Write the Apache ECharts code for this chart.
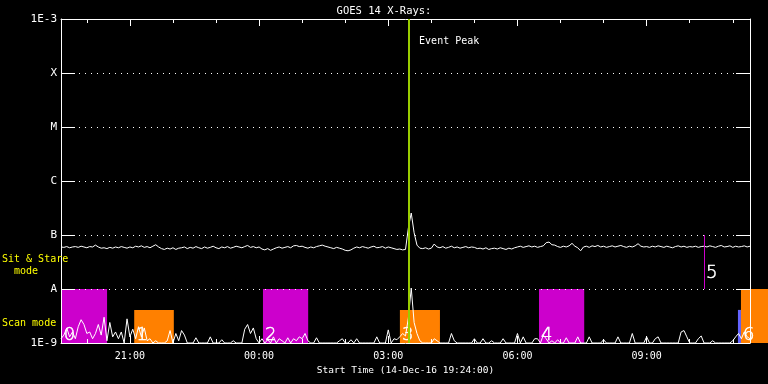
<!DOCTYPE html>
<html>
<head>
<meta charset="utf-8">
<script src="https://cdn.jsdelivr.net/npm/echarts@6/dist/echarts.min.js"></script>
<style>
html,body{margin:0;padding:0;background:#000;}
#chart{width:768px;height:384px;}
</style>
</head>
<body>
<div id="chart"></div>
<script>
// ---- data (flux in units of 1e-9 W/m^2, i.e. nW/m^2) ----
const startHour = 19.4;           // 14-Dec-16 19:24 expressed in hours of 14-Dec
const endHour = 35.4;             // 15-Dec 11:24
const sampleMinutes = 4;

// GOES 14 long channel (1-8 A)
const xrsLong = [
60,59,61,58,60,61,59,62,60,58,61,60,
65,
60,57,58,56,59,57,60,58,61,59,57,60,58,62,
60,63,59,61,58,62,66,60,
56,54,57,55,58,54,57,
58,60,56,59,57,61,58,56,60,57,59,62,58,56,60,58,61,57,59,62,60,58,61,
64,
59,61,58,60,
55,53,56,52,55,
58,60,57,59,61,58,
63,64,61,62,
59,57,60,58,61,
63,65,62,60,
58,56,59,57,55,
52,51,53,
57,60,58,61,59,57,60,62,58,59,61,57,60,58,
56,54,55,53,54,
135,255,110,65,
57,56,58,55,57,
68,
60,58,61,57,59,62,58,60,57,59,61,58,60,59,
56,57,55,58,54,56,57,55,58,56,54,57,55,58,
60,62,59,61,63,60,62,59,61,63,
72,74,
66,65,
61,59,62,60,63,
70,
62,58,
51,
60,62,59,63,61,64,60,62,59,61,63,60,62,64,61,59,62,60,63,
69,
62,60,61,59,62,60,63,61,59,62,60,58,61,63,60,62,59,61,60,62,59,61,
62,60,63,61,59,62,64,60,61,63,59,62,60,61,63,60,62
];

// GOES 14 short channel (0.5-4 A)
const xrsShort = [
1.2,1.4,1.9,1.3,1.6,1.2,2.0,2.7,2.2,1.5,
1.6,1.2,1.5,2.2,1.4,3.0,1.1,2.4,1.3,1.6,
1.2,1.6,1.0,2.8,1.3,1.8,1.2,2.0,1.3,1.9,
1.1,1.2,1.0,1.1,1.0,1.0,1.0,1.1,1.7,1.0,
1.5,1.1,1.7,1.4,1.0,1.0,1.0,1.25,1.0,1.0,
1.0,1.0,1.3,1.0,1.0,1.0,1.15,1.0,1.0,1.0,
1.1,1.0,1.0,1.0,1.8,2.2,1.5,1.9,1.2,1.0,
1.2,1.0,1.15,1.0,1.3,1.0,1.2,1.1,1.0,1.25,
1.0,1.2,1.1,1.3,1.2,1.5,1.1,1.0,1.0,1.25,
1.0,1.0,1.0,1.0,1.0,1.0,1.0,1.1,1.2,1.0,
1.0,1.15,1.0,1.2,1.0,1.0,1.0,1.0,1.0,1.0,
1.3,1.0,1.0,1.0,1.75,1.0,1.2,1.15,1.3,1.5,
1.35,2.9,10.4,2.4,1.5,1.1,1.0,1.0,1.0,1.0,
1.2,1.1,1.0,1.0,1.0,1.0,1.5,1.1,1.0,1.0,
1.0,1.0,1.0,1.0,1.2,1.0,1.0,1.2,1.0,1.0,
1.1,1.0,1.0,1.0,1.2,1.0,1.0,1.0,1.0,1.5,
1.0,1.3,1.0,1.0,1.0,1.2,1.2,1.0,1.4,1.2,
1.0,1.1,1.0,1.15,1.0,1.0,1.25,1.0,1.0,1.0,
1.3,1.0,1.0,1.0,1.3,1.0,1.0,1.0,1.0,1.15,
1.0,1.0,1.0,1.0,1.3,1.0,1.0,1.0,1.0,1.5,
1.0,1.0,1.0,1.0,1.3,1.0,1.0,1.2,1.3,1.0,
1.0,1.0,1.0,1.0,1.0,1.0,1.6,1.7,1.3,1.0,
1.0,1.0,1.2,1.35,1.0,1.0,1.0,1.1,1.0,1.0,
1.0,1.0,1.0,1.0,1.1,1.3,1.5,1.2,1.6,1.3,
1.2
];

// observing windows (hours of 14-Dec; >24 is 15-Dec)
const windowLabels = ['0', '1', '2', '3', '4', '', '6'];
const windowMode   = ['stare', 'scan', 'stare', 'scan', 'stare', 'other', 'scan6'];
const windowStart  = [19.42, 21.10, 24.09, 27.27, 30.50, 35.12, 35.19];
const windowEnd    = [20.47, 22.02, 25.14, 28.20, 31.55, 35.19, 35.82];
const windowTop    = [10, 4.1, 10, 4.1, 10, 4.1, 10];

// single sit & stare marker (event 5)
const markerLabels = ['5'];
const markerTime = [34.333];
const markerLow = [10];
const markerHigh = [100];

// event peak
const eventPeakTime = [27.483];
const eventPeakLabel = ['Event Peak'];

// axis tick labels
const yTickLabels = ['1E-9', 'A', 'B', 'C', 'M', 'X', '1E-3'];
const majorHours = [21, 24, 27, 30, 33];
const minorHours = [20, 21, 22, 23, 24, 25, 26, 27, 28, 29, 30, 31, 32, 33, 34, 35];
const titleText = 'GOES 14 X-Rays:';
const xAxisTitle = 'Start Time (14-Dec-16 19:24:00)';
const stareText = 'Sit & Stare\n  mode';
const scanText = 'Scan mode';

// ---- build ----
const modeColors = {stare: '#cc00cc', scan: '#ff8000', scan6: '#ff8000', other: '#6464ff'};
const toPairs = arr => arr.map((v, i) => [startHour + i * sampleMinutes / 60, v]);
const windowsData = windowStart.map((s, i) => [s, windowEnd[i], windowTop[i]]);
const markerData = markerTime.map((t, i) => [t, markerLow[i], markerHigh[i]]);
const hourFmt = v => { const h = Math.round(v) % 24; return (h < 10 ? '0' : '') + h + ':00'; };

const mono = '"DejaVu Sans Mono", monospace';
const white = '#ffffff';
const digitStyle = {fill: white, stroke: white, lineWidth: 0.5, font: '200 18px "DejaVu Sans"', verticalAlign: 'bottom'};

function xAxisBase(pos) {
  return {type: 'value', min: startHour, max: endHour, position: pos,
    splitLine: {show: false}, axisLabel: {show: false}, axisLine: {show: false}, z: 5};
}

const chart = echarts.init(document.getElementById('chart'), null, {renderer: 'canvas'});
chart.setOption({
  backgroundColor: '#000',
  animation: false,
  title: {text: titleText, left: 'center', top: 1,
    textStyle: {color: white, fontFamily: mono, fontSize: 10.5, fontWeight: 'normal'}},
  grid: {left: 61, right: 18, top: 19, bottom: 41, containLabel: false},
  graphic: [
    {type: 'text', left: 2, top: 253, z: 10,
      style: {text: stareText, fill: '#ffff00', font: '10px ' + mono, lineHeight: 12}},
    {type: 'text', left: 2, top: 318, z: 10,
      style: {text: scanText, fill: '#ffff00', font: '10px ' + mono}}
  ],
  xAxis: [
    Object.assign(xAxisBase('bottom'), {
      axisLine: {show: true, onZero: false, lineStyle: {color: white, width: 1}},
      axisTick: {show: true, inside: true, length: 7, customValues: majorHours, lineStyle: {color: white}},
      axisLabel: {show: true, customValues: majorHours, formatter: hourFmt, color: white,
        fontFamily: mono, fontSize: 10, margin: 8},
      name: xAxisTitle, nameLocation: 'middle', nameGap: 21,
      nameTextStyle: {color: white, fontFamily: mono, fontSize: 9.5}
    }),
    Object.assign(xAxisBase('bottom'), {
      axisTick: {show: true, inside: true, length: 4, customValues: minorHours, lineStyle: {color: white}}
    }),
    Object.assign(xAxisBase('top'), {
      axisLine: {show: true, onZero: false, lineStyle: {color: white, width: 1}},
      axisTick: {show: true, inside: true, length: 7, customValues: majorHours, lineStyle: {color: white}}
    }),
    Object.assign(xAxisBase('top'), {
      axisTick: {show: true, inside: true, length: 4, customValues: minorHours, lineStyle: {color: white}}
    })
  ],
  yAxis: [
    {type: 'log', logBase: 10, min: 1, max: 1e6, position: 'left', z: 5,
      axisLine: {show: true, onZero: false, lineStyle: {color: white}},
      axisTick: {show: true, inside: true, length: 14, lineStyle: {color: white}},
      axisLabel: {color: white, fontFamily: mono, fontSize: 11, margin: 4,
        formatter: v => yTickLabels[Math.round(Math.log10(v))]},
      splitLine: {show: true, lineStyle: {color: white, width: 1, type: [1, 5]}}},
    {type: 'log', logBase: 10, min: 1, max: 1e6, position: 'right', z: 5,
      axisLine: {show: true, onZero: false, lineStyle: {color: white}},
      axisTick: {show: true, inside: true, length: 14, lineStyle: {color: white}},
      axisLabel: {show: false}, splitLine: {show: false}}
  ],
  series: [
    {type: 'custom', name: 'windows', xAxisIndex: 0, yAxisIndex: 0, z: 1, clip: false,
      data: windowsData, encode: {x: [0, 1], y: 2},
      renderItem: (params, api) => {
        const i = params.dataIndex;
        const p0 = api.coord([api.value(0), api.value(2)]);
        const p1 = api.coord([api.value(1), 1]);
        return {type: 'group', children: [
          {type: 'rect', shape: {x: p0[0], y: p0[1], width: p1[0] - p0[0], height: p1[1] - p0[1]},
            style: {fill: modeColors[windowMode[i]]}},
          {type: 'text', x: p0[0] + 2, y: p1[1] + 1, z2: 10,
            style: Object.assign({text: windowLabels[i]}, digitStyle)}
        ]};
      }},
    {type: 'line', name: 'long', xAxisIndex: 0, yAxisIndex: 0, z: 3, data: toPairs(xrsLong),
      showSymbol: false, symbol: 'none', lineStyle: {color: white, width: 1}},
    {type: 'line', name: 'short', xAxisIndex: 0, yAxisIndex: 0, z: 3, data: toPairs(xrsShort),
      showSymbol: false, symbol: 'none', lineStyle: {color: white, width: 1}},
    {type: 'custom', name: 'marker', xAxisIndex: 0, yAxisIndex: 0, z: 4, clip: false,
      data: markerData, encode: {x: 0, y: [1, 2]},
      renderItem: (params, api) => {
        const i = params.dataIndex;
        const lo = api.coord([api.value(0), api.value(1)]);
        const hi = api.coord([api.value(0), api.value(2)]);
        const cx = Math.round(lo[0]) + 0.5;
        return {type: 'group', children: [
          {type: 'line', shape: {x1: cx, y1: lo[1], x2: cx, y2: hi[1]},
            style: {stroke: '#cc00cc', lineWidth: 1}},
          {type: 'text', x: lo[0] + 2, y: lo[1] - 7,
            style: Object.assign({text: markerLabels[i]}, digitStyle)}
        ]};
      }},
    {type: 'custom', name: 'peak', xAxisIndex: 0, yAxisIndex: 0, z: 6, clip: false,
      data: eventPeakTime.map(t => [t]), encode: {x: 0},
      renderItem: (params, api) => {
        const i = params.dataIndex;
        const lo = api.coord([api.value(0), 1]);
        const hi = api.coord([api.value(0), 1e6]);
        const cx = Math.round(lo[0]);
        return {type: 'group', children: [
          {type: 'line', shape: {x1: cx, y1: lo[1], x2: cx, y2: hi[1]},
            style: {stroke: '#99cc00', lineWidth: 2}},
          {type: 'text', x: hi[0] + 10, y: hi[1] + 17,
            style: {text: eventPeakLabel[i], fill: white, font: '10px ' + mono, verticalAlign: 'top'}}
        ]};
      }}
  ]
});
</script>
</body>
</html>
